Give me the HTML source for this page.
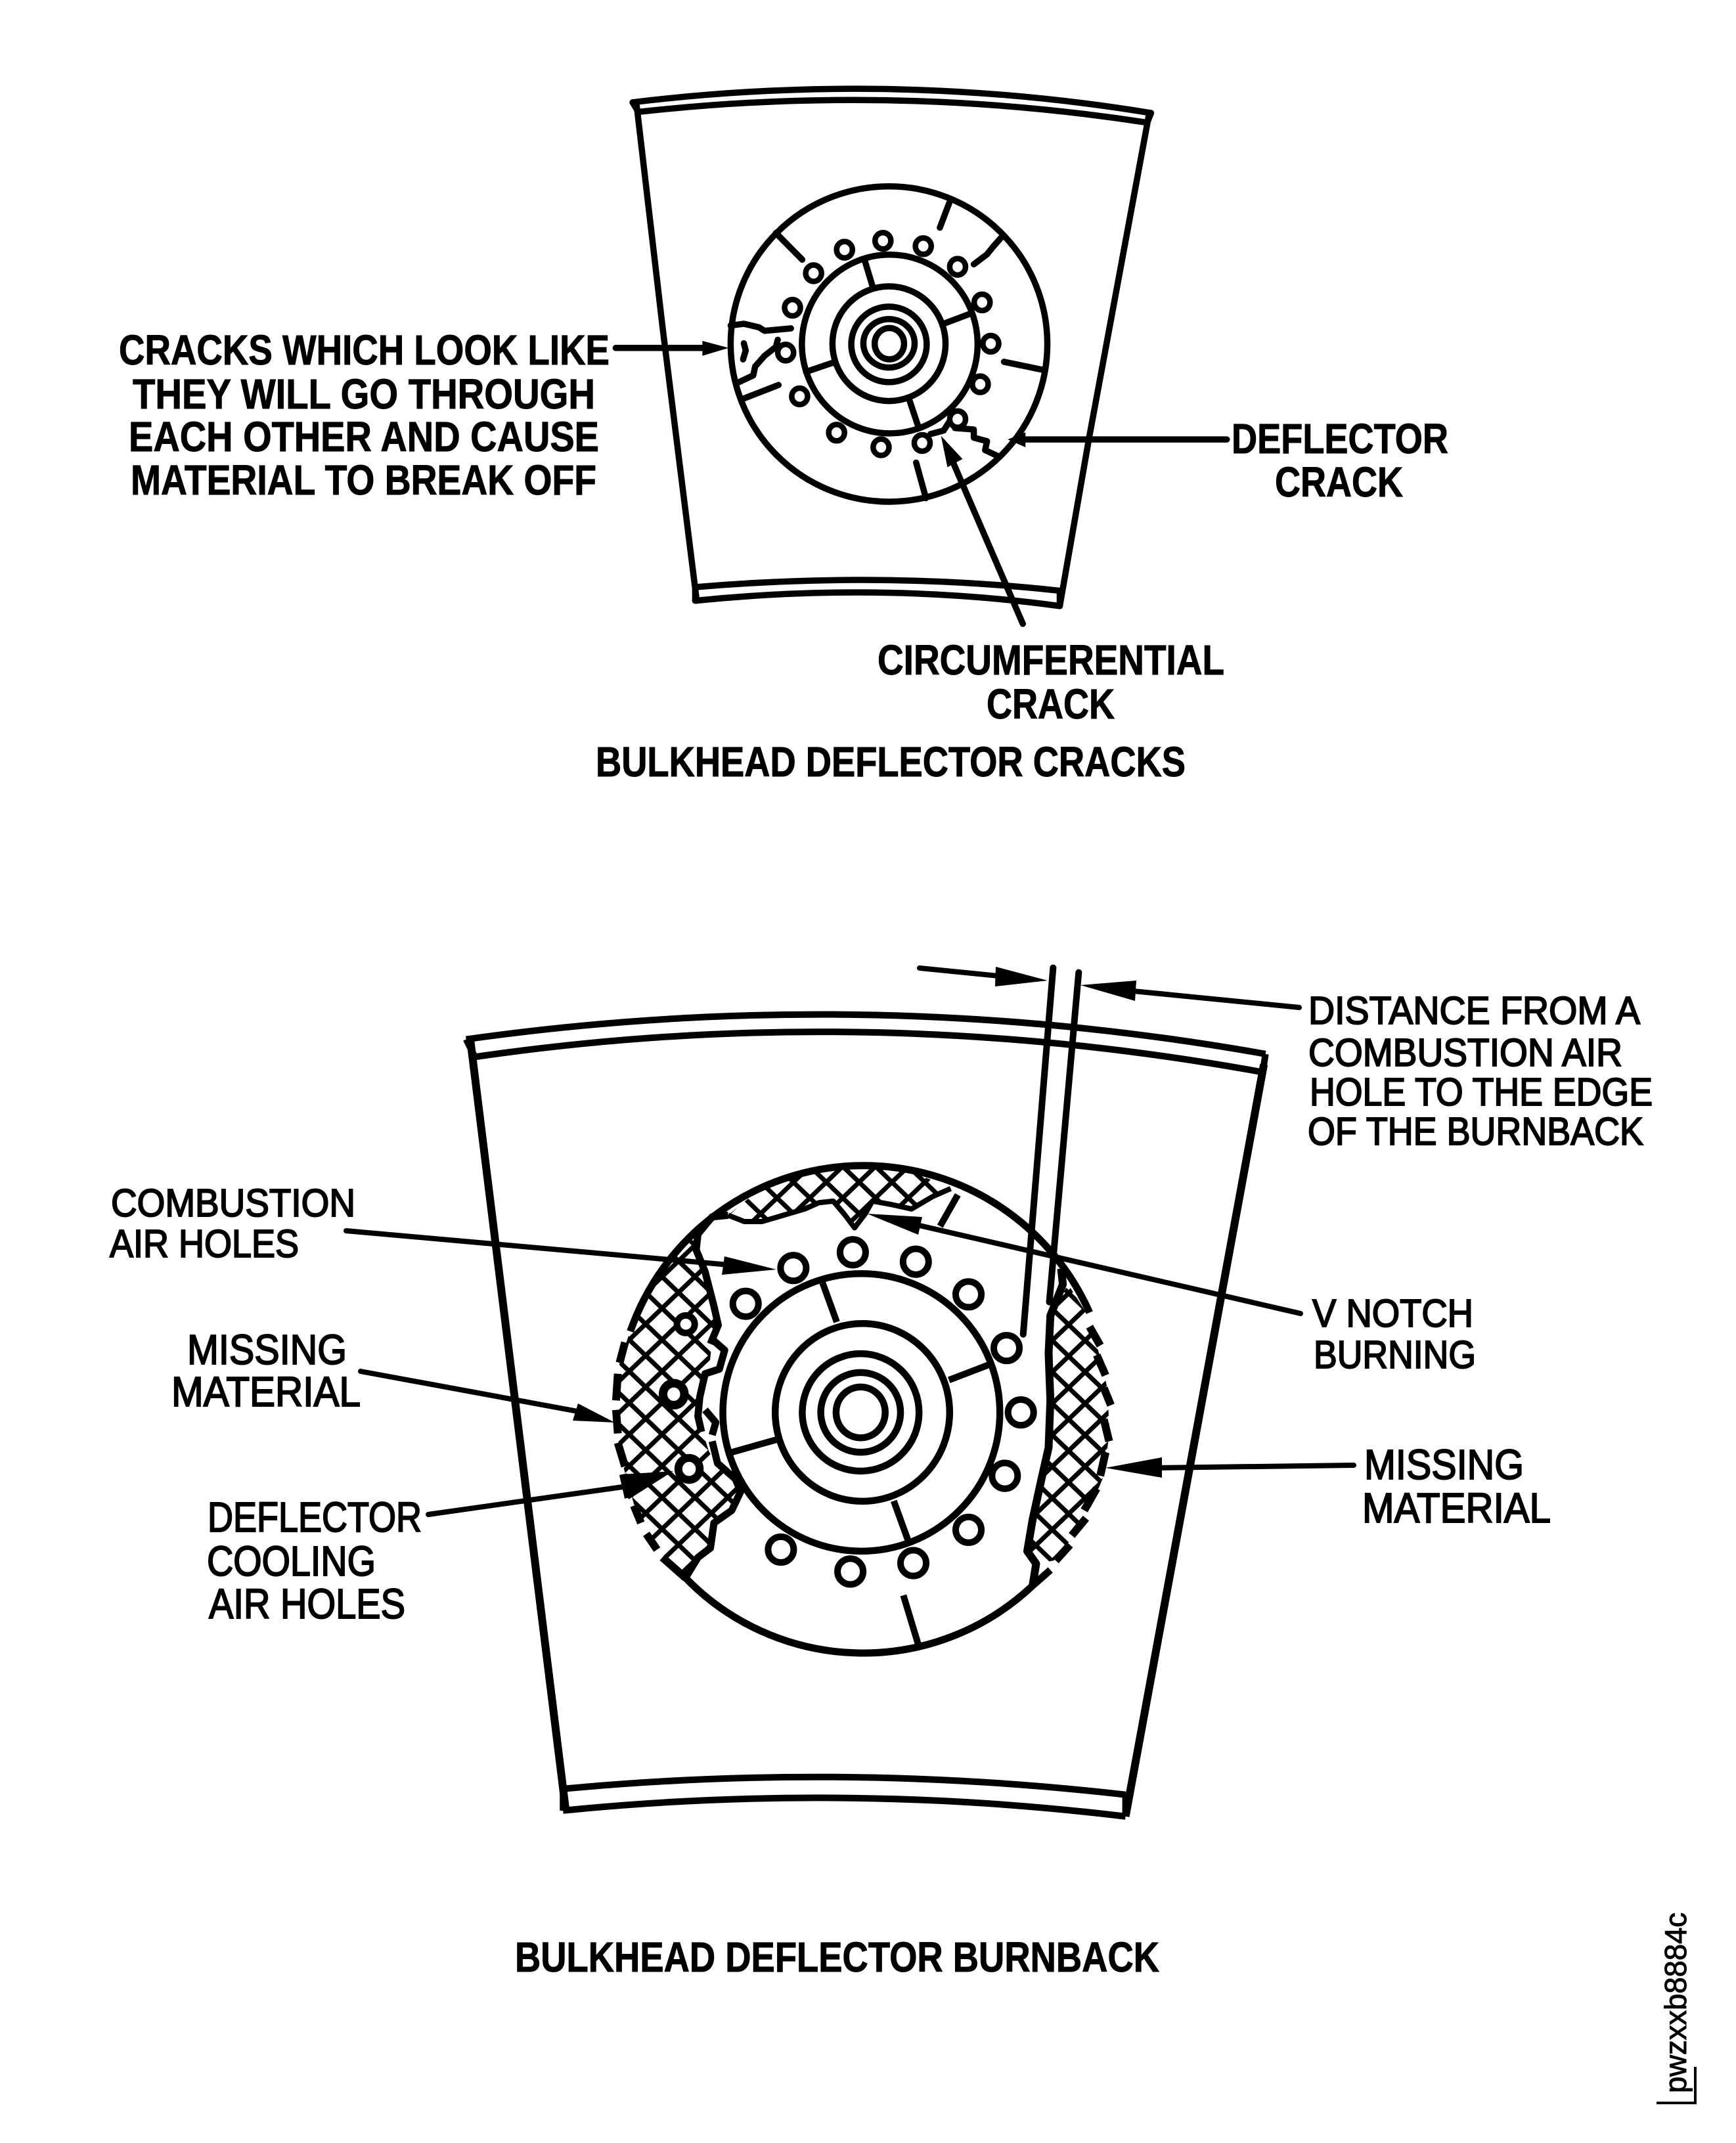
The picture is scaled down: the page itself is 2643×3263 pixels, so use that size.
<!DOCTYPE html>
<html><head><meta charset="utf-8"><style>
html,body{margin:0;padding:0;background:#fff}
svg{display:block}
text{font-family:"Liberation Sans",sans-serif;fill:#000}
.b{font-weight:bold;font-size:64px;stroke:#000;stroke-width:1px}
.n{font-size:59px;stroke:#000;stroke-width:2px}
.s *{vector-effect:non-scaling-stroke;fill:none;stroke:#000;stroke-linejoin:round}
.w8 *{stroke-width:9.5px}
.hole ellipse{fill:#fff;stroke:#000}
.ar{fill:#000;stroke:none}
</style></head><body>
<svg xmlns="http://www.w3.org/2000/svg" width="2643" height="3263" viewBox="0 0 2643 3263">
<rect width="2643" height="3263" fill="#fff"/>
<defs>
<pattern id="h" patternUnits="userSpaceOnUse" x="1008" y="2040" width="50" height="48">
<path d="M-5 -4.8L55 52.8M55 -4.8L-5 52.8" stroke="#000" stroke-width="7" fill="none"/>
</pattern>
<pattern id="h2" patternUnits="userSpaceOnUse" x="1627" y="2065" width="50" height="48">
<path d="M-5 -4.8L55 52.8M55 -4.8L-5 52.8" stroke="#000" stroke-width="7" fill="none"/>
</pattern>
<clipPath id="ctop"><path transform="translate(900,1750) scale(.542,.478)" d="M385 210L470 130L620 70L760 55L900 70L1010 125L960 150L900 190L840 175L790 165L770 205L740 250L710 205L680 165L640 170L600 190L540 210L480 230L430 230Z"/></clipPath>
<clipPath id="cleft"><path transform="translate(900,1750) scale(.542,.478)" d="M270 290L295 290L320 380L345 500L355 560L340 610L330 710L305 790L300 850L330 960L360 1020L405 1050L420 1100L390 1160L345 1190L330 1270L290 1310L265 1365L190 1280L120 1130L80 970L68 830L80 680L115 560L180 400Z"/></clipPath>
<clipPath id="cright"><path transform="translate(900,1750) scale(.542,.478)" d="M1340 430L1290 530L1285 650L1290 800L1285 950L1265 1050L1240 1180L1225 1280L1250 1320L1300 1310L1350 1240L1400 1150L1440 1040L1456 900L1450 760L1420 620L1390 520Z"/></clipPath>
</defs>

<!-- PANEL 1 -->
<g class="s" transform="translate(900,100) scale(.574,.542)" stroke-linecap="round">
<g class="w8">
<path d="M110 103Q800 14 1485 133"/>
<path d="M125 130Q800 50 1475 160"/>
<path d="M110 103L125 130M1485 133L1475 160"/>
<path d="M120 105L190 740L280 1503"/>
<path d="M1480 135L1320 1050L1243 1518"/>
<path d="M276 1465Q770 1420 1243 1475"/>
<path d="M276 1503Q770 1450 1243 1518"/>
<path d="M276 1465L276 1503M1243 1475L1243 1518"/>
<ellipse cx="790" cy="782" rx="420" ry="443"/>
<ellipse cx="792" cy="782" rx="233" ry="251"/>
<ellipse cx="790" cy="781" rx="150" ry="161"/>
<ellipse cx="790" cy="783" rx="100" ry="106"/>
<ellipse cx="790" cy="780" rx="68" ry="68"/>
<ellipse cx="791" cy="781" rx="39" ry="44"/>
</g>
<g class="hole">
<ellipse style="stroke-width:8.5px" cx="672" cy="517" rx="21" ry="23"/><ellipse style="stroke-width:8.5px" cx="774" cy="492" rx="21" ry="23"/><ellipse style="stroke-width:8.5px" cx="881" cy="507" rx="21" ry="23"/><ellipse style="stroke-width:8.5px" cx="972" cy="565" rx="21" ry="23"/><ellipse style="stroke-width:8.5px" cx="1037" cy="665" rx="21" ry="23"/><ellipse style="stroke-width:8.5px" cx="1060" cy="781" rx="21" ry="23"/><ellipse style="stroke-width:8.5px" cx="1032" cy="895" rx="21" ry="23"/><ellipse style="stroke-width:8.5px" cx="972" cy="993" rx="21" ry="23"/><ellipse style="stroke-width:8.5px" cx="878" cy="1060" rx="21" ry="23"/><ellipse style="stroke-width:8.5px" cx="769" cy="1072" rx="21" ry="23"/><ellipse style="stroke-width:8.5px" cx="651" cy="1031" rx="21" ry="23"/><ellipse style="stroke-width:8.5px" cx="553" cy="929" rx="21" ry="23"/><ellipse style="stroke-width:8.5px" cx="516" cy="806" rx="21" ry="23"/><ellipse style="stroke-width:8.5px" cx="534" cy="680" rx="21" ry="23"/><ellipse style="stroke-width:8.5px" cx="590" cy="583" rx="21" ry="23"/>
</g>
<g class="w8">
<path d="M490 470L560 545M950 385L925 455M1200 855L1095 832M888 1215L862 1115M405 935L497 897"/>
<path d="M725 545L747 622M935 725L1010 695M570 860L645 833M845 942L868 1015"/>
<path d="M1090 480L1065 510L1050 530L1015 558"/>
<path d="M370 730L405 725L445 735L460 745L530 738"/>
<path d="M405 780L410 800L403 825"/>
<path d="M390 890L430 870L435 845L460 815L490 790L495 770"/>
<path d="M965 1018L1015 1022L1015 1045L1050 1055L1045 1080L1075 1095"/>
<path d="M900 1035L935 1025L950 1000"/>
<path d="M65 793L320 793"/>
<path d="M1686 1050L1140 1050"/>
<path d="M1145 1568L950 1090"/>
</g>
</g>
<g transform="translate(900,100) scale(.574,.542)">
<polygon class="ar" points="365,793 295,773 295,815"/>
<polygon class="ar" points="1105,1050 1152,1030 1152,1072"/>
<polygon class="ar" points="928,1040 945,1128 985,1105"/>
</g>

<text class="b" x="181" y="555" textLength="747" lengthAdjust="spacingAndGlyphs">CRACKS WHICH LOOK LIKE</text>
<text class="b" x="202" y="622" textLength="704" lengthAdjust="spacingAndGlyphs">THEY WILL GO THROUGH</text>
<text class="b" x="196" y="687" textLength="716" lengthAdjust="spacingAndGlyphs">EACH OTHER AND CAUSE</text>
<text class="b" x="199" y="753" textLength="709" lengthAdjust="spacingAndGlyphs">MATERIAL TO BREAK OFF</text>
<text class="b" x="1875" y="690" textLength="330" lengthAdjust="spacingAndGlyphs">DEFLECTOR</text>
<text class="b" x="1941" y="756" textLength="195" lengthAdjust="spacingAndGlyphs">CRACK</text>
<text class="b" x="1336" y="1027" textLength="528" lengthAdjust="spacingAndGlyphs">CIRCUMFERENTIAL</text>
<text class="b" x="1502" y="1094" textLength="195" lengthAdjust="spacingAndGlyphs">CRACK</text>
<text class="b" x="907" y="1182" textLength="898" lengthAdjust="spacingAndGlyphs">BULKHEAD DEFLECTOR CRACKS</text>

<!-- PANEL 2 frame -->
<g class="s" transform="translate(650,1420) scale(.829,.893)">
<path style="stroke-width:10px" d="M72 182Q806 86 1540 207"/>
<path style="stroke-width:10px" d="M88 212Q806 115 1535 238"/>
<path style="stroke-width:10px" d="M72 182L88 212M1540 207L1535 238"/>
<path style="stroke-width:12px" d="M80 185L255 1497"/>
<path style="stroke-width:12px" d="M1537 225L1283 1507"/>
<path style="stroke-width:10px" d="M250 1460Q766 1415 1283 1470"/>
<path style="stroke-width:10px" d="M250 1497Q766 1449 1283 1507"/>
<path style="stroke-width:10px" d="M250 1460L250 1497M1283 1470L1283 1507"/>
</g>

<!-- hatch -->
<rect width="2643" height="3263" fill="url(#h)" clip-path="url(#ctop)"/>
<rect width="2643" height="3263" fill="url(#h)" clip-path="url(#cleft)"/>
<rect width="2643" height="3263" fill="url(#h2)" clip-path="url(#cright)"/>

<!-- PANEL 2 deflector -->
<g class="s" transform="translate(900,1750) scale(.542,.478)">
<path style="stroke-width:11px" d="M265 1365A694 787 0 0 0 1240 1390"/>
<path style="stroke-width:11px" d="M110 580A694 787 0 0 1 1400 520"/>
<ellipse style="stroke-width:10.5px;fill:#fff" cx="759" cy="838" rx="389" ry="442"/>
<ellipse style="stroke-width:10.5px" cx="762" cy="838" rx="245" ry="283"/>
<ellipse style="stroke-width:10.5px" cx="757" cy="838" rx="164" ry="187"/>
<ellipse style="stroke-width:10.5px" cx="757" cy="838" rx="112" ry="127"/>
<ellipse style="stroke-width:10.5px" cx="757" cy="838" rx="69" ry="81"/>
<!-- dashes -->
<path style="stroke-width:12px" d="M1400 565L1430 625M1420 655L1445 720M1440 760L1460 815M1440 860L1455 930M1445 965L1430 1040M1420 1080L1385 1150M1390 1175L1350 1230M1345 1260L1305 1310"/>
<path style="stroke-width:12px" d="M95 615L80 680M75 715L70 800M70 830L75 905M75 935L95 1010M90 1035L105 1110M120 1135L140 1190M155 1225L185 1275M200 1300L265 1365"/>
<!-- burn edges -->
<path style="stroke-width:8px" d="M385 210L430 230L480 230L540 210L600 190L640 170L680 165L710 205L740 250L770 205L790 165L840 175L900 190L960 150L1010 125"/>
<path style="stroke-width:11px" d="M385 210L340 215L300 270L295 320L320 390L345 500L357 560L335 620"/>
<path style="stroke-width:11px" d="M345 610L375 640L360 700L320 715L305 790L300 850L310 900"/>
<path style="stroke-width:11px" d="M320 830L350 870L340 910M340 930L355 1000L405 1050L420 1090L395 1150L345 1190L335 1270L300 1300L265 1365"/>
<path style="stroke-width:12px" d="M1320 380L1325 430L1290 530L1285 650L1290 800L1285 950L1265 1050L1240 1180L1225 1280L1250 1320L1240 1390"/>
<path style="stroke-width:11px" d="M1240 1390L1290 1340"/>
<!-- ticks -->
<path style="stroke-width:10px" d="M650 425L690 550M1005 735L1120 685M395 965L520 925M850 1120L890 1245M1030 145L980 245"/>
<ellipse style="fill:#fff;stroke-width:10px" cx="568" cy="378" rx="36" ry="41"/><ellipse style="fill:#fff;stroke-width:10px" cx="735" cy="328" rx="36" ry="41"/><ellipse style="fill:#fff;stroke-width:10px" cx="912" cy="358" rx="36" ry="41"/><ellipse style="fill:#fff;stroke-width:10px" cx="1060" cy="462" rx="36" ry="41"/><ellipse style="fill:#fff;stroke-width:10px" cx="1167" cy="633" rx="36" ry="41"/><ellipse style="fill:#fff;stroke-width:10px" cx="1207" cy="838" rx="36" ry="41"/><ellipse style="fill:#fff;stroke-width:10px" cx="1162" cy="1040" rx="36" ry="41"/><ellipse style="fill:#fff;stroke-width:10px" cx="1060" cy="1212" rx="36" ry="41"/><ellipse style="fill:#fff;stroke-width:10px" cx="905" cy="1318" rx="36" ry="41"/><ellipse style="fill:#fff;stroke-width:10px" cx="728" cy="1345" rx="36" ry="41"/><ellipse style="fill:#fff;stroke-width:10px" cx="533" cy="1275" rx="36" ry="41"/><ellipse style="fill:#fff;stroke-width:10px" cx="434" cy="492" rx="36" ry="41"/>
<ellipse style="fill:#fff;stroke-width:10px" cx="266" cy="557" rx="25" ry="28"/><ellipse style="fill:#fff;stroke-width:13px" cx="232" cy="780" rx="30" ry="35"/><ellipse style="fill:#fff;stroke-width:12px" cx="275" cy="1018" rx="30" ry="35"/>
</g>
<g class="s" transform="translate(650,1420) scale(.829,.893)">
<path style="stroke-width:10px" d="M875 1130L905 1222"/>
<path style="stroke-width:10px;stroke-linecap:round" d="M1150 60L1095 685"/>
<path style="stroke-width:10px;stroke-linecap:round" d="M1197 68L1143 630"/>
</g>

<!-- leaders -->
<g fill="none" stroke="#000" stroke-width="8" stroke-linecap="round">
<path d="M1400 1474L1530 1487"/>
<path d="M1978 1534L1715 1508"/>
<path d="M527 1874L1110 1926"/>
<path d="M1980 2000L1400 1866"/>
<path d="M549 2088L885 2150"/>
<path d="M652 2306L955 2263"/>
<path d="M2061 2231L1760 2235"/>
</g>
<g class="ar">
<polygon points="1595,1493 1516,1472 1515,1502"/>
<polygon points="1645,1500 1730,1493 1728,1524"/>
<polygon points="1182,1933 1103,1913 1099,1941"/>
<polygon points="1320,1848 1404,1853 1398,1880"/>
<polygon points="936,2166 880,2137 872,2163"/>
<polygon points="1025,2240 946,2245 957,2283"/>
<polygon points="1683,2235 1769,2219 1769,2250"/>
</g>

<text class="n" x="1992" y="1559" textLength="505" lengthAdjust="spacingAndGlyphs">DISTANCE FROM A</text>
<text class="n" x="1992" y="1623" textLength="478" lengthAdjust="spacingAndGlyphs">COMBUSTION AIR</text>
<text class="n" x="1994" y="1683" textLength="522" lengthAdjust="spacingAndGlyphs">HOLE TO THE EDGE</text>
<text class="n" x="1991" y="1743" textLength="511" lengthAdjust="spacingAndGlyphs">OF THE BURNBACK</text>
<text class="n" x="1998" y="2020" textLength="245" lengthAdjust="spacingAndGlyphs">V NOTCH</text>
<text class="n" x="2000" y="2083" textLength="247" lengthAdjust="spacingAndGlyphs">BURNING</text>
<text class="n" x="2077" y="2252" textLength="243" lengthAdjust="spacingAndGlyphs" style="font-size:64px">MISSING</text>
<text class="n" x="2074" y="2318" textLength="287" lengthAdjust="spacingAndGlyphs" style="font-size:64px">MATERIAL</text>
<text class="n" x="169" y="1852" textLength="372" lengthAdjust="spacingAndGlyphs">COMBUSTION</text>
<text class="n" x="167" y="1914" textLength="288" lengthAdjust="spacingAndGlyphs">AIR HOLES</text>
<text class="n" x="285" y="2077" textLength="243" lengthAdjust="spacingAndGlyphs" style="font-size:64px">MISSING</text>
<text class="n" x="261" y="2141" textLength="288" lengthAdjust="spacingAndGlyphs" style="font-size:64px">MATERIAL</text>
<text class="n" x="316" y="2332" textLength="326" lengthAdjust="spacingAndGlyphs" style="font-size:64px">DEFLECTOR</text>
<text class="n" x="315" y="2399" textLength="257" lengthAdjust="spacingAndGlyphs" style="font-size:64px">COOLING</text>
<text class="n" x="318" y="2464" textLength="299" lengthAdjust="spacingAndGlyphs" style="font-size:64px">AIR HOLES</text>
<text class="b" x="784" y="3002" textLength="981" lengthAdjust="spacingAndGlyphs">BULKHEAD DEFLECTOR BURNBACK</text>

<text transform="translate(2567,3187) rotate(-90)" style="font-size:46px;stroke:#000;stroke-width:1px" textLength="275" lengthAdjust="spacingAndGlyphs">pwzxxb8884c</text>
<path d="M2581 3147L2581 3204M2522 3202L2583 3202" stroke="#000" stroke-width="4" fill="none"/>
</svg>
</body></html>
